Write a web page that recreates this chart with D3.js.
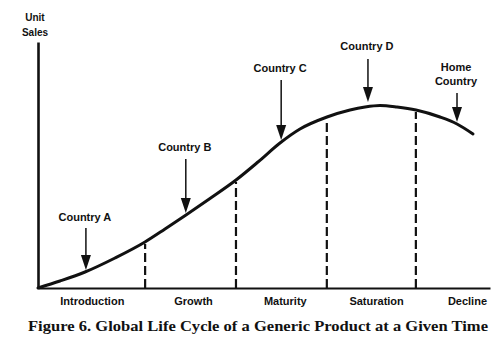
<!DOCTYPE html>
<html>
<head>
<meta charset="utf-8">
<script src="https://cdn.jsdelivr.net/npm/d3@7"></script>
<style>
  html, body { margin: 0; padding: 0; background: #fff; }
  svg { display: block; }
</style>
</head>
<body>
<svg id="chart" width="504" height="349"></svg>
<script>
// ---- data (time 0-100, unit sales 0-100) ----
const curveTime  = [0, 4.87, 10.4, 17.04, 23.67, 28.1, 32.74, 38.05, 43.81, 48.67, 53.54, 57.96, 63.94, 69.03, 72.35, 75.66, 79.42, 83.63, 88.94, 92.7, 96.24];
const curveSales = [0, 2.85, 6.5, 12.2, 18.7, 23.98, 29.67, 36.38, 43.9, 51.22, 58.94, 64.63, 69.51, 72.36, 73.58, 74.19, 73.58, 72.36, 69.51, 66.67, 62.6];

const stageNames   = ["Introduction", "Growth", "Maturity", "Saturation", "Decline"];
const stageCenters = [11.9, 34.3, 54.6, 74.8, 94.9];
const stageBounds  = [23.7, 43.8, 63.9, 83.6];
const boundSales   = [18.7, 43.9, 69.5, 72.4];

const countryNames  = [["Country A"], ["Country B"], ["Country C"], ["Country D"], ["Home", "Country"]];
const countryTime   = [10.6, 32.7, 53.8, 73.0, 92.7];
const arrowTop      = [24.4, 52.4, 84.6, 93.1, 79.3];
const arrowTip      = [7.3, 30.5, 60.2, 75.6, 67.5];
const labelSales    = [27.2, 55.7, 87.8, 96.7, 82.5];

const yTitle  = ["Unit", "Sales"];
const caption = "Figure 6. Global Life Cycle of a Generic Product at a Given Time";

// ---- scales ----
const svg = d3.select("#chart");
const x = d3.scaleLinear().domain([0, 100]).range([38, 490]);
const y = d3.scaleLinear().domain([0, 100]).range([288, 42]);
const sans = "'Liberation Sans', Arial, Helvetica, sans-serif";
const ink = "#111";

// y axis (plain line)
const yAxis = svg.append("g").attr("transform", `translate(${x(0)},0)`)
  .call(d3.axisLeft(y).tickValues([]).tickSizeOuter(0));
yAxis.select(".domain").attr("stroke", ink).attr("stroke-width", 2.6);

// x axis with stage labels
const xAxis = svg.append("g").attr("transform", `translate(0,${y(0)})`)
  .call(d3.axisBottom(x).tickValues(stageCenters).tickSize(0).tickSizeOuter(0).tickPadding(9)
    .tickFormat((d, i) => stageNames[i]));
xAxis.select(".domain").attr("stroke", ink).attr("stroke-width", 2);
xAxis.selectAll("text").attr("font-family", sans).attr("font-size", 11)
  .attr("font-weight", "bold").attr("fill", ink);

// stage boundaries (dashed)
svg.append("g").selectAll("line").data(stageBounds).join("line")
  .attr("x1", d => x(d)).attr("x2", d => x(d))
  .attr("y1", y(0)).attr("y2", (d, i) => y(boundSales[i]) + 2)
  .attr("stroke", ink).attr("stroke-width", 2.2)
  .attr("stroke-dasharray", "9,4");

// life-cycle curve
const pts = curveTime.map((t, i) => [t, curveSales[i]]);
svg.append("path").datum(pts)
  .attr("fill", "none").attr("stroke", ink).attr("stroke-width", 3)
  .attr("stroke-linecap", "round")
  .attr("d", d3.line().x(d => x(d[0])).y(d => y(d[1])).curve(d3.curveMonotoneX));

// arrows
const ag = svg.append("g");
countryTime.forEach((t, i) => {
  const cx = x(t), top = y(arrowTop[i]), tip = y(arrowTip[i]);
  ag.append("line").attr("x1", cx).attr("x2", cx).attr("y1", top).attr("y2", tip - 10)
    .attr("stroke", ink).attr("stroke-width", 1.5);
  ag.append("path")
    .attr("d", `M${cx - 5},${tip - 15} L${cx + 5},${tip - 15} L${cx},${tip} Z`)
    .attr("fill", ink);
  const lines = countryNames[i];
  const base = y(labelSales[i]);
  lines.forEach((s, j) => {
    ag.append("text").attr("x", cx - 1).attr("y", base + j * 14 - (lines.length - 1) * 14)
      .attr("text-anchor", "middle").attr("font-family", sans).attr("font-size", 11)
      .attr("font-weight", "bold").attr("fill", ink).text(s);
  });
});

// y title
yTitle.forEach((s, j) => {
  svg.append("text").attr("x", 35).attr("y", 21 + j * 15)
    .attr("text-anchor", "middle").attr("font-family", sans).attr("font-size", 10)
    .attr("font-weight", "bold").attr("fill", ink).text(s);
});

// caption
svg.append("text").attr("x", 28).attr("y", 331)
  .attr("font-family", "'Liberation Serif', 'Times New Roman', serif")
  .attr("font-size", 14.5).attr("font-weight", "bold").attr("fill", ink)
  .attr("textLength", 460).attr("lengthAdjust", "spacingAndGlyphs")
  .text(caption);
</script>
</body>
</html>
